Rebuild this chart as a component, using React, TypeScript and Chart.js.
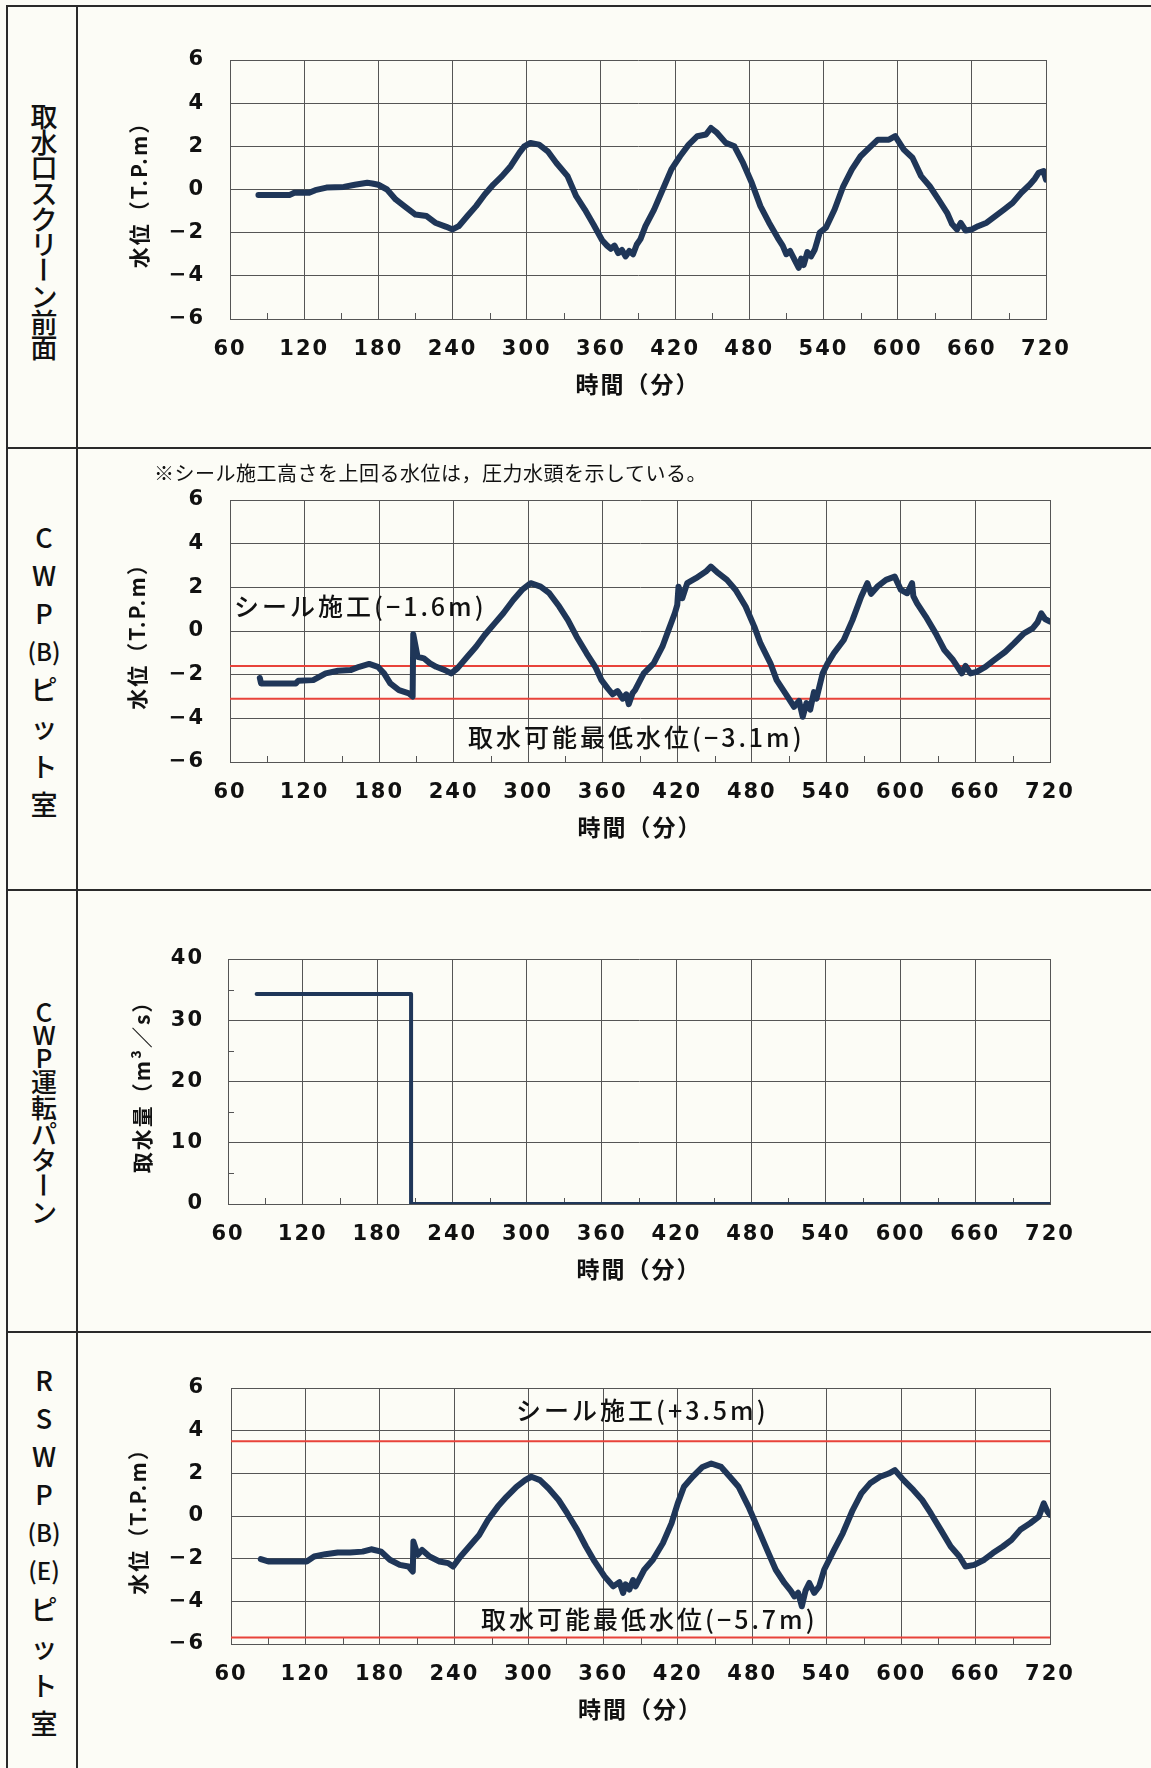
import React, { useEffect, useRef } from 'react';
import { Chart, registerables } from 'chart.js';

Chart.register(...registerables);

// ---------- data ----------
const X_MIN = 60;
const X_MAX = 720;
const xMinorTicks = [90, 150, 210, 270, 330, 390, 450, 510, 570, 630, 690];
const yMinorTicksFlow = [5, 15, 25, 35];

// 取水口スクリーン前面
const screenTimes = [83, 108, 112, 124, 129, 138, 152, 161, 171, 175, 180, 187, 194, 201, 210, 219, 226, 235, 240, 245, 252, 259, 266, 273, 280, 287, 294, 298, 303, 310, 317, 324, 333, 340, 347, 354, 361, 365, 368, 371, 374, 377, 380, 383, 386, 389, 392, 396, 403, 410, 417, 424, 431, 438, 445, 449, 454, 461, 468, 475, 482, 489, 496, 503, 507, 510, 513, 517, 520, 522, 524, 527, 530, 533, 537, 542, 549, 556, 563, 570, 577, 584, 593, 598, 605, 612, 619, 626, 633, 640, 644, 648, 651, 655, 660, 665, 672, 679, 686, 693, 700, 707, 711, 714, 718, 720];
const screenLevel = [-0.26, -0.26, -0.15, -0.15, -0.03, 0.09, 0.12, 0.22, 0.31, 0.28, 0.22, 0, -0.46, -0.77, -1.16, -1.23, -1.54, -1.73, -1.85, -1.7, -1.23, -0.77, -0.23, 0.23, 0.62, 1.08, 1.7, 2.0, 2.16, 2.08, 1.77, 1.23, 0.62, -0.31, -0.93, -1.62, -2.35, -2.6, -2.75, -2.6, -2.95, -2.8, -3.1, -2.85, -3.0, -2.55, -2.3, -1.7, -0.93, 0, 0.93, 1.54, 2.08, 2.47, 2.55, 2.85, 2.62, 2.16, 2.0, 1.23, 0.31, -0.77, -1.54, -2.24, -2.6, -3.0, -2.85, -3.3, -3.63, -3.2, -3.5, -2.9, -3.1, -2.78, -2.0, -1.77, -0.93, 0.15, 0.93, 1.54, 1.93, 2.31, 2.31, 2.47, 1.85, 1.47, 0.62, 0.15, -0.46, -1.08, -1.6, -1.85, -1.55, -1.9, -1.85, -1.7, -1.54, -1.23, -0.93, -0.62, -0.15, 0.23, 0.5, 0.77, 0.85, 0.46];

// CWP(B)ピット室
const cwpTimes = [84, 85, 113, 115, 127, 137, 147, 157, 164, 172, 179, 184, 189, 196, 204, 207, 207.5, 211, 216, 221, 226, 233, 238, 243, 251, 258, 265, 273, 280, 288, 295, 302, 310, 317, 325, 332, 339, 347, 354, 359, 364, 368, 372, 376, 379, 381, 384, 386, 393, 401, 408, 413, 418, 420, 421, 424, 428, 435, 443, 447, 453, 460, 467, 475, 482, 487, 495, 500, 507, 514, 518, 521, 524, 527, 530, 532, 537, 541, 546, 554, 561, 568, 573, 576, 581, 588, 595, 600, 605, 609, 610, 613, 620, 628, 635, 642, 649, 652, 656, 661, 668, 675, 684, 691, 699, 706, 710, 713, 716, 720];
const cwpLevel = [-2.15, -2.4, -2.4, -2.28, -2.25, -1.94, -1.82, -1.79, -1.64, -1.51, -1.64, -1.94, -2.4, -2.71, -2.86, -3.0, -0.15, -1.18, -1.25, -1.48, -1.64, -1.79, -1.94, -1.71, -1.18, -0.72, -0.18, 0.35, 0.81, 1.42, 1.88, 2.19, 2.03, 1.73, 1.12, 0.5, -0.26, -1.02, -1.64, -2.25, -2.63, -2.9, -2.75, -3.1, -2.9, -3.35, -2.85, -2.71, -1.94, -1.48, -0.72, 0.05, 0.81, 1.2, 2.03, 1.5, 2.19, 2.42, 2.72, 2.95, 2.65, 2.34, 1.88, 1.12, 0.2, -0.57, -1.48, -2.25, -2.86, -3.47, -3.2, -3.93, -3.3, -3.6, -2.8, -3.1, -1.94, -1.48, -1.02, -0.41, 0.5, 1.57, 2.19, 1.7, 2.03, 2.34, 2.49, 1.88, 1.73, 2.19, 1.6, 1.27, 0.66, -0.11, -0.87, -1.33, -1.94, -1.6, -1.94, -1.87, -1.64, -1.33, -0.95, -0.57, -0.11, 0.12, 0.4, 0.81, 0.55, 0.43];
const cwpSealLevel = -1.6;
const cwpMinLevel = -3.1;

// CWP運転パターン
const flowTimes = [83, 207, 207, 720];
const flowRate = [34.3, 34.3, 0, 0];

// RSWP(B)(E)ピット室
const rswpTimes = [84, 90, 121, 127, 136, 146, 156, 166, 173, 181, 188, 196, 203, 206.5, 207, 210.5, 214, 220, 228, 235, 239, 245, 252, 260, 267, 275, 282, 290, 297, 302, 309, 316, 324, 331, 339, 346, 353, 361, 368, 373, 376, 378, 381, 384, 386, 393, 400, 408, 415, 420, 425, 432, 440, 447, 455, 462, 469, 477, 484, 492, 499, 506, 511, 514, 517, 520, 523, 526, 530, 534, 538, 546, 553, 561, 568, 575, 583, 590, 595, 602, 610, 617, 624, 632, 640, 647, 652, 659, 667, 674, 682, 689, 696, 704, 711, 715, 718, 720];
const rswpLevel = [-2.02, -2.13, -2.13, -1.9, -1.79, -1.71, -1.71, -1.67, -1.56, -1.67, -2.05, -2.29, -2.37, -2.6, -1.2, -1.82, -1.59, -1.9, -2.13, -2.21, -2.37, -1.9, -1.43, -0.89, -0.19, 0.44, 0.9, 1.37, 1.68, 1.84, 1.68, 1.29, 0.75, 0.12, -0.65, -1.43, -2.13, -2.83, -3.3, -3.1, -3.61, -3.2, -3.45, -3.0, -3.3, -2.52, -2.05, -1.28, -0.34, 0.59, 1.37, 1.84, 2.3, 2.46, 2.3, 1.84, 1.37, 0.44, -0.5, -1.59, -2.52, -3.14, -3.5, -3.77, -3.6, -4.23, -3.5, -3.14, -3.6, -3.3, -2.52, -1.59, -0.81, 0.28, 1.06, 1.53, 1.84, 1.99, 2.15, 1.68, 1.21, 0.75, 0.12, -0.65, -1.43, -1.9, -2.37, -2.29, -2.05, -1.74, -1.43, -1.12, -0.65, -0.34, -0.03, 0.59, 0.2, 0.05];
const rswpSealLevel = 3.5;
const rswpMinLevel = -5.7;

// ---------- styles ----------
const NAVY = '#1f3658';
const RED = '#e8433a';
const GRID = '#555555';
const INK = '#111111';
const BG = '#fcfcf6';
const TICK_FONT = '"DejaVu Sans", "Liberation Sans", sans-serif';
const CJK = '"Noto Sans CJK JP", "Noto Sans", sans-serif';
const SPACING = '2px';

function series(ts: number[], vs: number[]) {
  return ts.map((x, i) => ({ x, y: vs[i] }));
}
function hline(v: number) {
  return [{ x: X_MIN, y: v }, { x: X_MAX, y: v }];
}
function fmt(v: number) {
  return v < 0 ? '\u2212' + Math.abs(v) : String(v);
}

const spacingPlugin = {
  id: 'spacing',
  beforeUpdate(chart: any) { chart.ctx.letterSpacing = SPACING; },
  beforeLayout(chart: any) { chart.ctx.letterSpacing = SPACING; },
  beforeDraw(chart: any) { chart.ctx.letterSpacing = SPACING; },
};

function minorPlugin(xs: number[], ys: number[]) {
  return {
    id: 'minorTicks',
    beforeDatasetsDraw(chart: any) {
      const { ctx, chartArea, scales } = chart;
      ctx.save();
      ctx.strokeStyle = GRID;
      ctx.lineWidth = 1;
      ctx.beginPath();
      xs.forEach((v) => {
        const px = Math.round(scales.x.getPixelForValue(v)) + 0.5;
        ctx.moveTo(px, chartArea.bottom);
        ctx.lineTo(px, chartArea.bottom - 6);
      });
      ys.forEach((v) => {
        const py = Math.round(scales.y.getPixelForValue(v)) + 0.5;
        ctx.moveTo(chartArea.left, py);
        ctx.lineTo(chartArea.left + 6, py);
      });
      ctx.stroke();
      ctx.restore();
    },
  };
}

type Spec = {
  plotTop: number;
  plotBottom: number;
  plotLeft: number;
  plotRight: number;
  yMin: number;
  yMax: number;
  yStep: number;
  yTitle: string;
  yTitleCenter: number;
  yTickPad: number;
  datasets: any[];
  yMinor: number[];
};

const CANVAS_LEFT = 80;
const CANVAS_W = 1151 - CANVAS_LEFT;
const X_AXIS_H = 79;
const TOP_PAD = 42;
const Y_TITLE_SIZE = 21;

function ChartBox({ spec }: { spec: Spec }) {
  const ref = useRef<HTMLCanvasElement>(null);
  const top = spec.plotTop - TOP_PAD;
  const height = spec.plotBottom - top + X_AXIS_H;
  useEffect(() => {
    if (!ref.current) return;
    const chart = new Chart(ref.current, {
      type: 'line',
      data: { datasets: spec.datasets },
      options: {
        animation: false,
        responsive: false,
        devicePixelRatio: 1,
        layout: {
          padding: { left: 0, right: 1151 - spec.plotRight, top: TOP_PAD, bottom: 0 },
        },
        plugins: { legend: { display: false }, tooltip: { enabled: false } },
        elements: { point: { radius: 0 }, line: { tension: 0 } },
        scales: {
          x: {
            type: 'linear',
            min: X_MIN,
            max: X_MAX,
            ticks: {
              stepSize: 60,
              autoSkip: false,
              maxRotation: 0,
              padding: 18,
              color: INK,
              font: { family: TICK_FONT, size: 21, weight: 'bold' },
            },
            grid: { color: GRID, lineWidth: 1, drawTicks: false },
            border: { color: GRID, width: 1 },
            title: {
              display: true,
              text: '時間（分）',
              color: INK,
              font: { family: CJK, size: 23, weight: 'bold' },
              padding: { top: 0, bottom: 0 },
            },
            afterFit: (s: any) => { s.height = X_AXIS_H; },
          },
          y: {
            type: 'linear',
            min: spec.yMin,
            max: spec.yMax,
            ticks: {
              stepSize: spec.yStep,
              padding: spec.yTickPad,
              color: INK,
              font: { family: TICK_FONT, size: 21, weight: 'bold' },
              callback: (v: any) => fmt(Number(v)),
            },
            grid: { color: GRID, lineWidth: 1, drawTicks: false },
            border: { color: GRID, width: 1 },
            title: {
              display: true,
              text: spec.yTitle,
              color: INK,
              font: { family: CJK, size: Y_TITLE_SIZE, weight: 'bold', lineHeight: 1.2 },
              padding: { top: spec.yTitleCenter - CANVAS_LEFT - Y_TITLE_SIZE * 0.6, bottom: 0 },
            },
            afterFit: (s: any) => { s.width = spec.plotLeft - CANVAS_LEFT; },
          },
        },
      } as any,
      plugins: [spacingPlugin, minorPlugin(xMinorTicks, spec.yMinor)],
    });
    return () => chart.destroy();
  }, []);
  return (
    <canvas
      ref={ref}
      width={CANVAS_W}
      height={height}
      style={{ position: 'absolute', left: CANVAS_LEFT, top, width: CANVAS_W, height }}
    />
  );
}

const navyLine = (data: any[], width = 6) => ({
  data,
  borderColor: NAVY,
  borderWidth: width,
  pointRadius: 0,
  borderJoinStyle: 'round',
  borderCapStyle: 'round',
  fill: false,
});
const redLine = (v: number) => ({
  data: hline(v),
  borderColor: RED,
  borderWidth: 2,
  pointRadius: 0,
  fill: false,
});

const specs: Spec[] = [
  {
    plotTop: 60, plotBottom: 319, plotLeft: 230, plotRight: 1046,
    yMin: -6, yMax: 6, yStep: 2, yTitle: '水位（T.P.m）', yTitleCenter: 139, yTickPad: 25,
    datasets: [navyLine(series(screenTimes, screenLevel))], yMinor: [],
  },
  {
    plotTop: 500, plotBottom: 762, plotLeft: 230, plotRight: 1050,
    yMin: -6, yMax: 6, yStep: 2, yTitle: '水位（T.P.m）', yTitleCenter: 137, yTickPad: 25,
    datasets: [navyLine(series(cwpTimes, cwpLevel)), redLine(cwpSealLevel), redLine(cwpMinLevel)], yMinor: [],
  },
  {
    plotTop: 959, plotBottom: 1204, plotLeft: 228, plotRight: 1050,
    yMin: 0, yMax: 40, yStep: 10, yTitle: '取水量（m³／s）', yTitleCenter: 142, yTickPad: 24,
    datasets: [navyLine(series(flowTimes, flowRate), 4)], yMinor: yMinorTicksFlow,
  },
  {
    plotTop: 1388, plotBottom: 1644, plotLeft: 231, plotRight: 1050,
    yMin: -6, yMax: 6, yStep: 2, yTitle: '水位（T.P.m）', yTitleCenter: 138, yTickPad: 26,
    datasets: [navyLine(series(rswpTimes, rswpLevel)), redLine(rswpSealLevel), redLine(rswpMinLevel)], yMinor: [],
  },
];

type Piece = { t: string; h: number; rot?: boolean; size?: number };

function VLabel({ top, pieces, size }: { top: number; pieces: Piece[]; size: number }) {
  return (
    <div
      style={{
        position: 'absolute', left: 9, width: 70, top,
        display: 'flex', flexDirection: 'column', alignItems: 'center',
        fontFamily: CJK, fontSize: size, fontWeight: 500, color: INK,
      }}
    >
      {pieces.map((p, i) => (
        <div
          key={i}
          style={{
            height: p.h, lineHeight: p.h + 'px', whiteSpace: 'nowrap',
            fontSize: p.size ?? size,
            transform: p.rot ? 'rotate(90deg)' : undefined,
          }}
        >
          {p.t}
        </div>
      ))}
    </div>
  );
}

const chars = (s: string, h: number): Piece[] => Array.from(s).map((t) => ({ t, h }));

const annStyle = (left: number, cy: number, size = 25): React.CSSProperties => ({
  position: 'absolute', left, top: cy - size * 0.6, height: size * 1.2, lineHeight: size * 1.2 + 'px',
  fontFamily: CJK, fontSize: size, fontWeight: 500, color: INK, whiteSpace: 'nowrap', letterSpacing: '3px',
});

export default function App() {
  const B = '#2a2a2a';
  return (
    <div style={{ position: 'absolute', left: 0, top: 0, width: 1151, height: 1768, overflow: 'hidden', background: BG }}>
      {/* table borders */}
      <div style={{ position: 'absolute', left: 6, top: 5, width: 1145, height: 2, background: B }} />
      <div style={{ position: 'absolute', left: 6, top: 5, width: 2, height: 1763, background: B }} />
      <div style={{ position: 'absolute', left: 76, top: 5, width: 2, height: 1763, background: B }} />
      <div style={{ position: 'absolute', left: 6, top: 447, width: 1145, height: 2, background: B }} />
      <div style={{ position: 'absolute', left: 6, top: 889, width: 1145, height: 2, background: B }} />
      <div style={{ position: 'absolute', left: 6, top: 1331, width: 1145, height: 2, background: B }} />

      {/* row labels */}
      <VLabel
        top={103}
        size={27}
        pieces={[...chars('取水口スクリ', 25.7), { t: 'ー', h: 25.7, rot: true }, ...chars('ン前面', 25.7)]}
      />
      <VLabel
        top={518}
        size={27}
        pieces={[...chars('CWP', 38.1), { t: '(B)', h: 38.1, size: 24 }, ...chars('ピット室', 38.1)]}
      />
      <VLabel
        top={999}
        size={26}
        pieces={[...chars('CWP', 23), ...chars('運転パタ', 26), { t: 'ー', h: 26, rot: true }, ...chars('ン', 26)]}
      />
      <VLabel
        top={1361}
        size={27}
        pieces={[...chars('RSWP', 38.1), { t: '(B)', h: 38.1, size: 24 }, { t: '(E)', h: 38.1, size: 24 }, ...chars('ピット室', 38.1)]}
      />

      {specs.map((s, i) => (
        <ChartBox key={i} spec={s} />
      ))}

      {/* annotations */}
      <div style={{ ...annStyle(154, 473, 20), fontWeight: 400, letterSpacing: '0.5px' }}>
        ※シール施工高さを上回る水位は，圧力水頭を示している。
      </div>
      <div style={annStyle(234, 605)}>シール施工(−1.6m)</div>
      <div style={annStyle(468, 736)}>取水可能最低水位(−3.1m)</div>
      <div style={annStyle(516, 1409)}>シール施工(+3.5m)</div>
      <div style={annStyle(481, 1618)}>取水可能最低水位(−5.7m)</div>
    </div>
  );
}
